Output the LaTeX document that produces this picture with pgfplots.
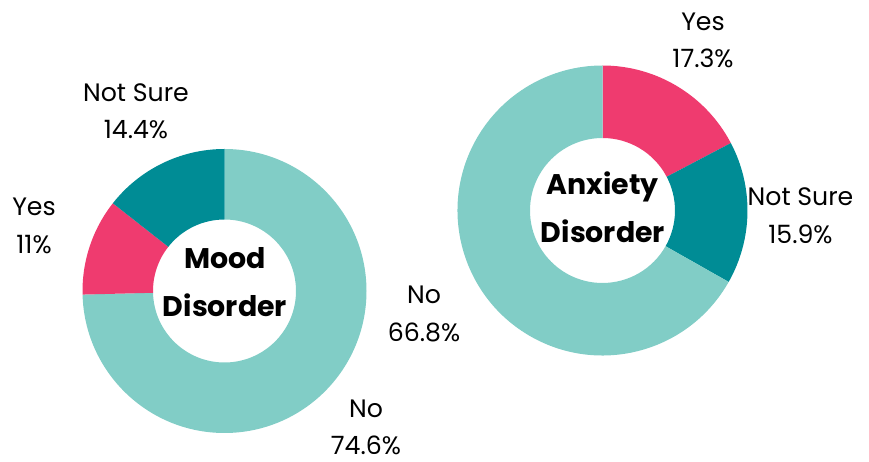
\documentclass[border=0pt]{standalone}
\usepackage{fontspec}
\setmainfont{Poppins}
\usepackage{pgfplots}
\usepackage{pgfplotstable}
\pgfplotsset{compat=1.18}
\definecolor{lteal}{HTML}{81CDC6}
\definecolor{pinkc}{HTML}{EF3B6F}
\definecolor{dteal}{HTML}{008C95}

\pgfplotstableread{
label value col
No 74.6 lteal
Yes 11.0 pinkc
NotSure 14.4 dteal
}\mood
\pgfplotstableread{
label value col
Yes 17.3 pinkc
NotSure 15.9 dteal
No 66.8 lteal
}\anxiety

% #1 table, #2 cx, #3 cy, #4 outer R, #5 inner r (axis units, 1 unit = 0.5pt)
\newcommand\donut[5]{%
  \pgfplotstablegetrowsof{#1}\pgfmathtruncatemacro\nrows{\pgfplotsretval-1}%
  \def\startang{90}%
  \pgfplotsforeachungrouped \i in {0,...,\nrows}{%
    \pgfplotstablegetelem{\i}{value}\of{#1}\let\val\pgfplotsretval
    \pgfplotstablegetelem{\i}{col}\of{#1}\let\col\pgfplotsretval
    \pgfmathsetmacro\endang{\startang-3.6*\val}%
    \edef\temp{\noexpand\fill[\col, shift={(axis cs:#2,#3)}] (\startang:#4*0.5pt) arc[start angle=\startang, end angle=\endang, radius=#4*0.5pt] -- (\endang:#5*0.5pt) arc[start angle=\endang, end angle=\startang, radius=#5*0.5pt] -- cycle;}%
    \temp
    \let\startang\endang
  }%
}
\newcommand\lbl{\fontsize{12.6}{15}\selectfont}
\newcommand\ttl{\fontsize{14.2}{17}\selectfont\bfseries}

\begin{document}
\begin{tikzpicture}
\begin{axis}[x=0.5pt, y=0.5pt, xmin=0, xmax=869, ymin=0, ymax=458,
  hide axis, clip=false]
\path (axis cs:0,0) rectangle (axis cs:869,458);
\donut{\mood}{224.5}{167}{142}{71.5}
\donut{\anxiety}{602.5}{247.5}{145}{72.5}
% labels (y = 458 - baseline in px)
\node[anchor=base, font=\lbl] at (axis cs:136,356.5) {Not Sure};
\node[anchor=base, font=\lbl] at (axis cs:136,319.7) {14.4\%};
\node[anchor=base, font=\lbl] at (axis cs:34,242) {Yes};
\node[anchor=base, font=\lbl] at (axis cs:34,204) {11\%};
\node[anchor=base, font=\lbl] at (axis cs:366,40) {No};
\node[anchor=base, font=\lbl] at (axis cs:366,3) {74.6\%};
\node[anchor=base, font=\ttl] at (axis cs:225,189) {Mood};
\node[anchor=base, font=\ttl] at (axis cs:225,141) {Disorder};
\node[anchor=base, font=\lbl] at (axis cs:424,154) {No};
\node[anchor=base, font=\lbl] at (axis cs:424,116) {66.8\%};
\node[anchor=base, font=\lbl] at (axis cs:703,427.3) {Yes};
\node[anchor=base, font=\lbl] at (axis cs:703,390) {17.3\%};
\node[anchor=base, font=\lbl] at (axis cs:800.5,252) {Not Sure};
\node[anchor=base, font=\lbl] at (axis cs:800.5,214.7) {15.9\%};
\node[anchor=base, font=\ttl] at (axis cs:602.5,263) {Anxiety};
\node[anchor=base, font=\ttl] at (axis cs:603,215.3) {Disorder};
\end{axis}
\end{tikzpicture}
\end{document}
